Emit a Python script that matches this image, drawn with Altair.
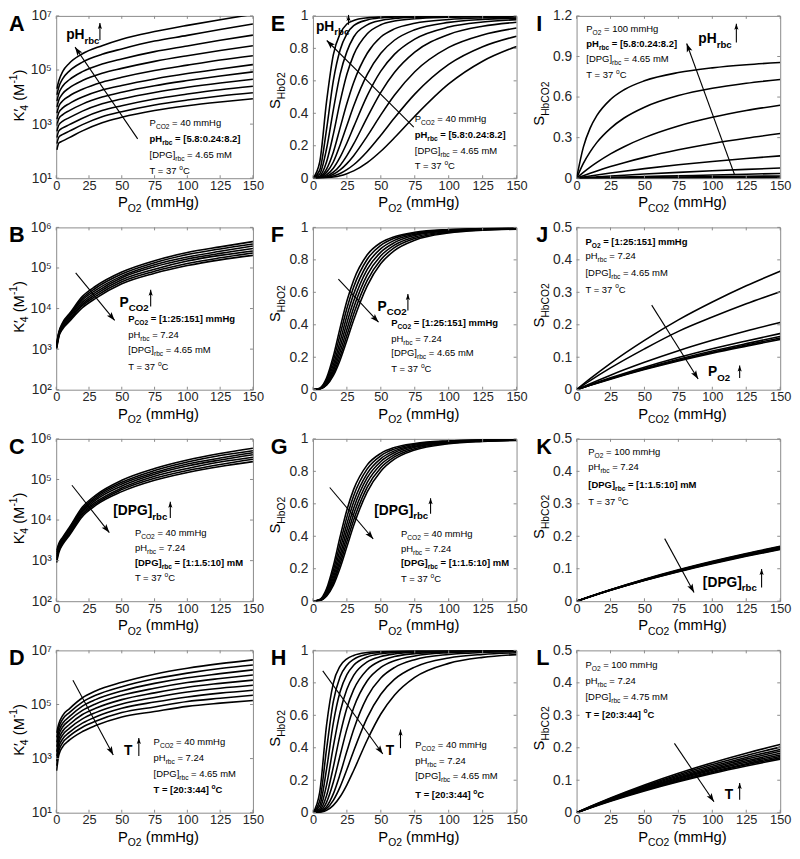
import math
import altair as alt
import pandas as pd

# ------------------------------------------------------------------
# Values
# ------------------------------------------------------------------
X_TICKS = [0, 25, 50, 75, 100, 125, 150]

# Panel A: log10 K'4 vs PO2, pH_rbc 8.2 (top) ... 5.8 (bottom)
A_PO2 = [0.5, 2, 5, 10, 20, 35, 50, 75, 100, 125, 150]
A_LOG10_K4 = [
    [4.30, 4.60, 4.95, 5.25, 5.60, 5.90, 6.14, 6.42, 6.65, 6.86, 7.06],
    [4.08, 4.37, 4.68, 4.96, 5.29, 5.58, 5.78, 6.07, 6.28, 6.50, 6.70],
    [3.85, 4.13, 4.41, 4.64, 4.94, 5.22, 5.41, 5.68, 5.89, 6.10, 6.29],
    [3.63, 3.89, 4.13, 4.34, 4.61, 4.88, 5.06, 5.32, 5.53, 5.72, 5.90],
    [3.40, 3.66, 3.86, 4.04, 4.29, 4.55, 4.73, 4.98, 5.18, 5.37, 5.53],
    [3.18, 3.43, 3.60, 3.76, 4.00, 4.26, 4.43, 4.67, 4.87, 5.04, 5.20],
    [2.95, 3.20, 3.35, 3.50, 3.74, 4.00, 4.18, 4.42, 4.61, 4.78, 4.93],
    [2.73, 2.97, 3.11, 3.24, 3.48, 3.75, 3.93, 4.17, 4.36, 4.52, 4.66],
    [2.50, 2.75, 2.86, 2.98, 3.22, 3.50, 3.68, 3.93, 4.11, 4.27, 4.40],
    [2.28, 2.52, 2.62, 2.74, 2.98, 3.27, 3.46, 3.71, 3.89, 4.04, 4.16],
    [2.05, 2.30, 2.38, 2.50, 2.75, 3.05, 3.25, 3.50, 3.68, 3.82, 3.94],
]

# Panels B, C, D share this PO2 grid
BCD_PO2 = [0.3, 2, 5, 10, 20, 30, 50, 75, 100, 125, 150]
B_LOG10_K4 = [  # PCO2 1 ... 151
    [3.15, 3.42, 3.66, 3.87, 4.30, 4.55, 4.90, 5.18, 5.38, 5.52, 5.65],
    [3.13, 3.40, 3.63, 3.84, 4.25, 4.50, 4.85, 5.13, 5.33, 5.47, 5.59],
    [3.10, 3.38, 3.61, 3.81, 4.21, 4.45, 4.80, 5.08, 5.27, 5.41, 5.54],
    [3.08, 3.36, 3.58, 3.78, 4.16, 4.40, 4.76, 5.03, 5.22, 5.36, 5.48],
    [3.05, 3.34, 3.55, 3.74, 4.11, 4.35, 4.71, 4.97, 5.17, 5.31, 5.42],
    [3.03, 3.32, 3.53, 3.71, 4.07, 4.30, 4.66, 4.92, 5.11, 5.25, 5.37],
    [3.00, 3.30, 3.50, 3.68, 4.02, 4.25, 4.61, 4.87, 5.06, 5.20, 5.31],
]
C_LOG10_K4 = [  # DPG 1 ... 10 mM
    [3.25, 3.42, 3.58, 3.82, 4.32, 4.61, 4.98, 5.27, 5.48, 5.64, 5.77],
    [3.20, 3.38, 3.55, 3.79, 4.28, 4.57, 4.93, 5.22, 5.43, 5.59, 5.71],
    [3.15, 3.35, 3.52, 3.75, 4.24, 4.53, 4.89, 5.17, 5.38, 5.53, 5.66],
    [3.10, 3.31, 3.49, 3.72, 4.21, 4.49, 4.84, 5.13, 5.33, 5.48, 5.61],
    [3.05, 3.27, 3.46, 3.69, 4.17, 4.44, 4.79, 5.08, 5.27, 5.43, 5.55],
    [3.00, 3.24, 3.43, 3.65, 4.13, 4.40, 4.75, 5.03, 5.22, 5.37, 5.50],
    [2.95, 3.20, 3.40, 3.62, 4.09, 4.36, 4.70, 4.98, 5.17, 5.32, 5.44],
]
D_LOG10_K4 = [  # T 20 ... 44 C
    [3.95, 4.29, 4.60, 4.84, 5.25, 5.50, 5.82, 6.12, 6.34, 6.51, 6.65],
    [3.78, 4.15, 4.46, 4.70, 5.09, 5.34, 5.66, 5.95, 6.16, 6.33, 6.46],
    [3.60, 4.00, 4.31, 4.55, 4.94, 5.18, 5.50, 5.78, 5.99, 6.14, 6.28],
    [3.43, 3.86, 4.17, 4.41, 4.78, 5.02, 5.34, 5.60, 5.81, 5.96, 6.09],
    [3.25, 3.71, 4.02, 4.26, 4.63, 4.86, 5.18, 5.43, 5.64, 5.78, 5.90],
    [3.08, 3.57, 3.88, 4.12, 4.47, 4.70, 5.02, 5.26, 5.46, 5.60, 5.71],
    [2.90, 3.42, 3.73, 3.97, 4.31, 4.54, 4.86, 5.09, 5.28, 5.42, 5.53],
    [2.73, 3.28, 3.59, 3.83, 4.16, 4.38, 4.70, 4.91, 5.11, 5.23, 5.34],
    [2.55, 3.13, 3.44, 3.68, 4.00, 4.22, 4.54, 4.74, 4.93, 5.05, 5.15],
]

# Panels E-H: S_HbO2 vs PO2
S_PO2 = [0, 5, 10, 15, 20, 25, 30, 40, 50, 60, 75, 100, 125, 150]
E_SHBO2 = [  # pH 8.2 ... 5.8
    [0, 0.100, 0.470, 0.760, 0.890, 0.950, 0.972, 0.988, 0.993, 0.995, 0.997, 0.998, 0.999, 0.999],
    [0, 0.050, 0.300, 0.600, 0.790, 0.890, 0.940, 0.975, 0.988, 0.993, 0.996, 0.998, 0.999, 0.999],
    [0, 0.026, 0.180, 0.420, 0.640, 0.780, 0.870, 0.945, 0.972, 0.984, 0.992, 0.996, 0.998, 0.999],
    [0, 0.013, 0.100, 0.270, 0.470, 0.640, 0.760, 0.890, 0.945, 0.968, 0.983, 0.992, 0.996, 0.998],
    [0, 0.008, 0.056, 0.160, 0.310, 0.460, 0.590, 0.770, 0.870, 0.920, 0.955, 0.978, 0.988, 0.993],
    [0, 0.005, 0.036, 0.100, 0.205, 0.325, 0.445, 0.640, 0.770, 0.850, 0.915, 0.960, 0.978, 0.986],
    [0, 0.003, 0.021, 0.062, 0.130, 0.217, 0.316, 0.509, 0.660, 0.763, 0.857, 0.931, 0.962, 0.977],
    [0, 0.002, 0.012, 0.037, 0.079, 0.139, 0.211, 0.375, 0.529, 0.651, 0.777, 0.886, 0.936, 0.961],
    [0, 0.001, 0.008, 0.024, 0.051, 0.090, 0.139, 0.259, 0.390, 0.511, 0.656, 0.806, 0.883, 0.925],
    [0, 0.001, 0.005, 0.014, 0.029, 0.053, 0.083, 0.165, 0.265, 0.371, 0.518, 0.701, 0.810, 0.875],
    [0, 0.000, 0.002, 0.007, 0.015, 0.028, 0.045, 0.096, 0.166, 0.249, 0.382, 0.581, 0.721, 0.812],
]
F_SHBO2 = [  # PCO2 1 ... 151
    [0, 0.0095, 0.0715, 0.206, 0.381, 0.546, 0.675, 0.831, 0.906, 0.943, 0.970, 0.987, 0.993, 0.996],
    [0, 0.0079, 0.0600, 0.178, 0.339, 0.500, 0.633, 0.804, 0.889, 0.933, 0.964, 0.985, 0.992, 0.995],
    [0, 0.0066, 0.0500, 0.152, 0.298, 0.454, 0.589, 0.773, 0.869, 0.920, 0.957, 0.982, 0.990, 0.994],
    [0, 0.0055, 0.0427, 0.131, 0.263, 0.411, 0.546, 0.741, 0.848, 0.906, 0.950, 0.978, 0.989, 0.993],
    [0, 0.0047, 0.0364, 0.113, 0.232, 0.371, 0.505, 0.707, 0.825, 0.891, 0.941, 0.974, 0.987, 0.992],
    [0, 0.0040, 0.0313, 0.098, 0.205, 0.335, 0.466, 0.674, 0.801, 0.875, 0.932, 0.970, 0.984, 0.991],
    [0, 0.0035, 0.0271, 0.086, 0.182, 0.303, 0.429, 0.640, 0.777, 0.857, 0.921, 0.965, 0.982, 0.989],
]
G_SHBO2 = [  # DPG 1 ... 10 mM
    [0, 0.0102, 0.0759, 0.217, 0.397, 0.562, 0.689, 0.840, 0.911, 0.947, 0.972, 0.988, 0.994, 0.996],
    [0, 0.0085, 0.0644, 0.189, 0.355, 0.518, 0.650, 0.815, 0.896, 0.937, 0.967, 0.986, 0.993, 0.996],
    [0, 0.0072, 0.0550, 0.164, 0.318, 0.476, 0.611, 0.788, 0.879, 0.926, 0.961, 0.983, 0.991, 0.995],
    [0, 0.0062, 0.0473, 0.144, 0.284, 0.437, 0.573, 0.761, 0.861, 0.915, 0.954, 0.980, 0.990, 0.994],
    [0, 0.0053, 0.0410, 0.126, 0.255, 0.400, 0.536, 0.732, 0.842, 0.902, 0.948, 0.977, 0.988, 0.993],
    [0, 0.0046, 0.0357, 0.111, 0.229, 0.367, 0.500, 0.703, 0.822, 0.889, 0.940, 0.974, 0.986, 0.992],
    [0, 0.0040, 0.0313, 0.098, 0.205, 0.335, 0.466, 0.674, 0.801, 0.875, 0.932, 0.970, 0.984, 0.991],
]
H_SHBO2 = [  # T 20 ... 44 C
    [0, 0.127, 0.538, 0.797, 0.903, 0.948, 0.969, 0.987, 0.993, 0.996, 0.998, 0.999, 0.999, 0.999],
    [0, 0.074, 0.390, 0.684, 0.837, 0.909, 0.945, 0.976, 0.988, 0.993, 0.996, 0.998, 0.999, 0.999],
    [0, 0.0436, 0.267, 0.552, 0.745, 0.851, 0.908, 0.959, 0.979, 0.987, 0.994, 0.997, 0.998, 0.999],
    [0, 0.0248, 0.169, 0.407, 0.620, 0.761, 0.846, 0.929, 0.962, 0.978, 0.988, 0.995, 0.997, 0.998],
    [0, 0.0143, 0.104, 0.281, 0.481, 0.645, 0.758, 0.881, 0.936, 0.962, 0.980, 0.991, 0.996, 0.997],
    [0, 0.0084, 0.0637, 0.187, 0.352, 0.515, 0.647, 0.813, 0.895, 0.936, 0.966, 0.986, 0.993, 0.996],
    [0, 0.0048, 0.0375, 0.116, 0.238, 0.378, 0.513, 0.714, 0.830, 0.894, 0.943, 0.975, 0.987, 0.992],
    [0, 0.0034, 0.0248, 0.076, 0.159, 0.266, 0.380, 0.586, 0.730, 0.821, 0.897, 0.953, 0.975, 0.985],
    [0, 0.0019, 0.0143, 0.045, 0.098, 0.172, 0.260, 0.448, 0.608, 0.724, 0.834, 0.920, 0.957, 0.974],
]

# Panel I: S_HbCO2 vs PCO2, pH 8.2 (top) ... 5.8 (bottom)
I_PCO2 = [0, 5, 10, 15, 25, 35, 50, 75, 100, 125, 150]
I_SHBCO2 = [
    [0, 0.230, 0.370, 0.464, 0.582, 0.654, 0.720, 0.781, 0.816, 0.839, 0.855],
    [0, 0.110, 0.195, 0.265, 0.369, 0.445, 0.525, 0.611, 0.665, 0.702, 0.730],
    [0, 0.043, 0.082, 0.117, 0.180, 0.233, 0.300, 0.386, 0.450, 0.500, 0.540],
    [0, 0.019, 0.037, 0.054, 0.086, 0.115, 0.154, 0.210, 0.257, 0.296, 0.330],
    [0, 0.0081, 0.016, 0.0236, 0.0381, 0.0517, 0.0707, 0.099, 0.124, 0.146, 0.165],
    [0, 0.0034, 0.0067, 0.0099, 0.0162, 0.0221, 0.0306, 0.0434, 0.055, 0.0655, 0.075],
    [0, 0.0012, 0.0024, 0.0036, 0.0062, 0.0086, 0.0122, 0.018, 0.024, 0.0296, 0.035],
    [0, 0.0006, 0.0012, 0.0018, 0.003, 0.0041, 0.0059, 0.0087, 0.0115, 0.0143, 0.017],
    [0, 0.0003, 0.0006, 0.0009, 0.0015, 0.0021, 0.003, 0.0045, 0.006, 0.0075, 0.009],
    [0, 0.0002, 0.0003, 0.0005, 0.0008, 0.0012, 0.0017, 0.0025, 0.0033, 0.0042, 0.005],
    [0, 0.0001, 0.0002, 0.0003, 0.0005, 0.0007, 0.001, 0.0015, 0.002, 0.0025, 0.003],
]

# Panels J, K, L: S_HbCO2 vs PCO2
JKL_PCO2 = [0, 10, 25, 50, 75, 100, 125, 150]
J_SHBCO2 = [  # PO2 1 ... 151
    [0, 0.0339, 0.0813, 0.152, 0.215, 0.270, 0.320, 0.365],
    [0, 0.0280, 0.0671, 0.1259, 0.1798, 0.2238, 0.2647, 0.302],
    [0, 0.0185, 0.0448, 0.0843, 0.120, 0.152, 0.181, 0.207],
    [0, 0.0150, 0.0365, 0.0692, 0.0989, 0.126, 0.150, 0.173],
    [0, 0.0143, 0.0346, 0.0656, 0.0937, 0.119, 0.142, 0.164],
    [0, 0.0138, 0.0335, 0.0636, 0.0909, 0.1156, 0.1378, 0.159],
    [0, 0.0135, 0.0326, 0.0620, 0.0886, 0.1127, 0.1343, 0.155],
]
K_SHBCO2 = [  # DPG 1 ... 10 mM
    [0, 0.0147, 0.0356, 0.0676, 0.0966, 0.1229, 0.1470, 0.1690],
    [0, 0.01455, 0.0352, 0.0669, 0.0956, 0.1216, 0.1455, 0.1673],
    [0, 0.0144, 0.0349, 0.0663, 0.0947, 0.1205, 0.1441, 0.1657],
    [0, 0.01426, 0.0345, 0.0656, 0.0937, 0.1193, 0.1426, 0.1640],
    [0, 0.01411, 0.0342, 0.0649, 0.0927, 0.1180, 0.1411, 0.1623],
    [0, 0.01398, 0.0338, 0.0643, 0.0919, 0.1169, 0.1398, 0.1607],
    [0, 0.01383, 0.0335, 0.0636, 0.0909, 0.1156, 0.1383, 0.1590],
]
L_SHBCO2 = [  # T 20 ... 44 C
    [0, 0.0188, 0.0453, 0.0856, 0.1216, 0.1540, 0.1833, 0.210],
    [0, 0.0181, 0.0436, 0.0823, 0.1170, 0.1482, 0.1764, 0.202],
    [0, 0.0174, 0.0421, 0.0794, 0.1129, 0.1430, 0.1702, 0.195],
    [0, 0.0169, 0.0408, 0.0770, 0.1094, 0.1386, 0.1650, 0.189],
    [0, 0.0164, 0.0395, 0.0746, 0.1060, 0.1342, 0.1598, 0.183],
    [0, 0.0159, 0.0384, 0.0726, 0.1031, 0.1306, 0.1555, 0.178],
    [0, 0.0155, 0.0373, 0.0704, 0.1001, 0.1268, 0.1510, 0.173],
    [0, 0.0151, 0.0365, 0.0689, 0.0979, 0.1240, 0.1476, 0.169],
    [0, 0.0148, 0.0356, 0.0672, 0.0955, 0.1210, 0.1440, 0.165],
]

# Tick values
YT_LOG_ODD = [1e1, 1e3, 1e5, 1e7]
YT_LOG_ALL = [1e2, 1e3, 1e4, 1e5, 1e6]
YT_S1 = [0, 0.2, 0.4, 0.6, 0.8, 1.0]
YT_I = [0, 0.3, 0.6, 0.9, 1.2]
YT_05 = [0, 0.1, 0.2, 0.3, 0.4, 0.5]

# Texts
XT_O2 = "P_{O2} (mmHg)"
XT_CO2 = "P_{CO2} (mmHg)"
YT_K = "K\u2032_{4} (M^{-1})"
YT_O2 = "S_{HbO2}"
YT_CO2 = "S_{HbCO2}"

INFO_A = [("P_{CO2} = 40 mmHg", False), ("pH_{rbc} = [5.8:0.24:8.2]", True),
          ("[DPG]_{rbc} = 4.65 mM", False), ("T = 37 ^{o}C", False)]
INFO_I = [("P_{O2} = 100 mmHg", False), ("pH_{rbc} = [5.8:0.24:8.2]", True),
          ("[DPG]_{rbc} = 4.65 mM", False), ("T = 37 ^{o}C", False)]
INFO_B = [("P_{CO2} = [1:25:151] mmHg", True), ("pH_{rbc} = 7.24", False),
          ("[DPG]_{rbc} = 4.65 mM", False), ("T = 37 ^{o}C", False)]
INFO_J = [("P_{O2} = [1:25:151] mmHg", True), ("pH_{rbc} = 7.24", False),
          ("[DPG]_{rbc} = 4.65 mM", False), ("T = 37 ^{o}C", False)]
INFO_C = [("P_{CO2} = 40 mmHg", False), ("pH_{rbc} = 7.24", False),
          ("[DPG]_{rbc} = [1:1.5:10] mM", True), ("T = 37 ^{o}C", False)]
INFO_K = [("P_{O2} = 100 mmHg", False), ("pH_{rbc} = 7.24", False),
          ("[DPG]_{rbc} = [1:1.5:10] mM", True), ("T = 37 ^{o}C", False)]
INFO_D = [("P_{CO2} = 40 mmHg", False), ("pH_{rbc} = 7.24", False),
          ("[DPG]_{rbc} = 4.65 mM", False), ("T = [20:3:44] ^{o}C", True)]
INFO_L = [("P_{O2} = 100 mmHg", False), ("pH_{rbc} = 7.24", False),
          ("[DPG]_{rbc} = 4.75 mM", False), ("T = [20:3:44] ^{o}C", True)]

# ------------------------------------------------------------------
# Styling / layout helpers
# ------------------------------------------------------------------
FONT = "Liberation Sans"
BOX = "#8a8a8a"
LABEL = "#262626"
INK = "#000000"
H = 165
COL_W = [200, 207, 207]
COL_LETTER_X = [-48, -43, -41]
ARROW_PATH = "M0,0L-0.55,1.6L0,1.25L0.55,1.6Z"

_REG = dict(zip("ABCDEFGHIJKLMNOPQRSTUVWXYZ",
                [667, 667, 722, 722, 667, 611, 778, 722, 278, 500, 667, 556, 833,
                 722, 778, 667, 778, 722, 667, 611, 722, 667, 944, 667, 667, 611]))
_REG.update(zip("abcdefghijklmnopqrstuvwxyz",
                [556, 556, 500, 556, 556, 278, 556, 556, 222, 222, 500, 222, 833,
                 556, 556, 556, 556, 333, 500, 278, 556, 500, 722, 500, 500, 500]))
_REG.update({c: 556 for c in "0123456789"})
_REG.update({" ": 278, "(": 333, ")": 333, "-": 333, ".": 278, ":": 278,
             "=": 584, "[": 278, "]": 278, "\u2032": 60})
_BOLD = dict(zip("ABCDEFGHIJKLMNOPQRSTUVWXYZ",
                 [722, 722, 722, 722, 667, 611, 778, 722, 278, 556, 722, 611, 833,
                  722, 778, 667, 778, 722, 667, 611, 722, 667, 944, 667, 667, 611]))
_BOLD.update(zip("abcdefghijklmnopqrstuvwxyz",
                 [556, 611, 556, 611, 556, 333, 611, 611, 278, 278, 556, 278, 889,
                  611, 611, 611, 611, 389, 556, 333, 611, 556, 778, 556, 556, 500]))
_BOLD.update({c: 556 for c in "0123456789"})
_BOLD.update({" ": 278, "(": 333, ")": 333, "-": 333, ".": 278, ":": 333,
              "=": 584, "[": 333, "]": 333, "\u2032": 60})


def tw(text, size, bold):
    tab = _BOLD if bold else _REG
    return sum(tab.get(ch, 556) for ch in text) * size / 1000.0


def parse(s):
    out, i = [], 0
    while i < len(s):
        if s[i] in "_^" and i + 1 < len(s) and s[i + 1] == "{":
            j = s.index("}", i)
            out.append((s[i + 2:j], "s" if s[i] == "_" else "p"))
            i = j + 1
        else:
            j = i
            while j < len(s) and not (s[j] in "_^" and j + 1 < len(s) and s[j + 1] == "{"):
                j += 1
            out.append((s[i:j], "n"))
            i = j
    return out


def rich(s, x, y, size, bold, angle=0, align="left"):
    items, adv = [], 0.0
    for t, m in parse(s):
        fs = size if m == "n" else round(size * 0.7, 2)
        off = 0.0 if m == "n" else (0.32 * size if m == "s" else -0.45 * size)
        lead = len(t) - len(t.lstrip(" "))
        items.append((t.strip(" "), fs, adv + tw(" " * lead, fs, bold), off))
        adv += tw(t, fs, bold)
    start = {"left": 0.0, "center": -adv / 2.0, "right": -adv}[align]
    rows = []
    for t, fs, a, off in items:
        if not t:
            continue
        a += start
        if angle == 0:
            rows.append(dict(px=x + a, py=y + off, txt=t, fs=fs, ang=0, b=bold))
        else:
            rows.append(dict(px=x + off, py=y - a, txt=t, fs=fs, ang=270, b=bold))
    return rows


def arrow(x1, y1, x2, y2, hs):
    ang = math.degrees(math.atan2(x2 - x1, -(y2 - y1))) % 360
    return dict(px=x1, py=y1, px2=x2, py2=y2, ang=ang, hs=hs)


LOG_EXPR = ("'10' + ['\u2070','\u00b9','\u00b2','\u00b3','\u2074','\u2075','\u2076','\u2077']"
            "[round(log(datum.value)/LN10)]")


def panel(p, col):
    W = COL_W[col]
    sx, sy = W / p["ref"][0], H / p["ref"][1]

    rows = []
    for ci, ys in enumerate(p["curves"]):
        for xv, yv in zip(p["x"], ys):
            rows.append({"x": xv, "y": (10 ** yv) if p["log"] else yv, "c": ci})
    df = pd.DataFrame(rows)

    if p["log"]:
        ysc = alt.Scale(type="log", domain=p["ydom"], nice=False)
        yax = alt.Axis(values=p["yt"], labelExpr=LOG_EXPR, title=None)
    else:
        ysc = alt.Scale(domain=p["ydom"], nice=False, zero=False)
        yax = alt.Axis(values=p["yt"], format=".1~f", title=None)
    X = alt.X("x:Q", scale=alt.Scale(domain=[0, 150], nice=False, zero=False),
              axis=alt.Axis(values=X_TICKS, format="d", title=None))
    Y = alt.Y("y:Q", scale=ysc, axis=yax)

    lines = alt.Chart(df).mark_line(color=INK, strokeWidth=1.6, clip=True,
                                    interpolate="monotone").encode(x=X, y=Y, detail="c:N")
    xt = pd.DataFrame({"x": X_TICKS})
    yt = pd.DataFrame({"y": p["yt"]})
    TL = 3
    t1 = alt.Chart(xt).mark_rule(color=BOX).encode(x=X, y=alt.value(H), y2=alt.value(H - TL))
    t2 = alt.Chart(xt).mark_rule(color=BOX).encode(x=X, y=alt.value(0), y2=alt.value(TL))
    t3 = alt.Chart(yt).mark_rule(color=BOX).encode(y=Y, x=alt.value(0), x2=alt.value(TL))
    t4 = alt.Chart(yt).mark_rule(color=BOX).encode(y=Y, x=alt.value(W), x2=alt.value(W - TL))
    base = alt.layer(lines, t1, t2, t3, t4)

    # ---- annotations in pixel coordinates of the plot area ----
    txt = []
    txt += rich(p["letter"], COL_LETTER_X[col], 15, 22, True)
    ycen = H * p.get("ycen", 0.49)
    txt += rich(p["ytitle"], -33, ycen, 15, False, angle=270, align="center")
    txt += rich(p["xtitle"], W * 0.52, H + 29.5, 15, False, align="center")
    ix = p["info_x"] * sx
    for (s, b), yy in zip(p["info"], p["info_y"]):
        txt += rich(s, ix, yy * sy, 9.6, b)
    lx, ly = p["label_xy"]
    txt += rich(p["label"], lx * sx, ly * sy, 14, True)
    tdf = pd.DataFrame(txt)

    ux, uy1, uy2 = p["up"]
    bx1, by1, bx2, by2 = p["big"]
    adf = pd.DataFrame([
        arrow(ux * sx, uy1 * sy, ux * sx, uy2 * sy, 60),
        arrow(bx1 * sx, by1 * sy, bx2 * sx, by2 * sy, 120),
    ])

    PXS = alt.Scale(domain=[0, W], nice=False, zero=False)
    PYS = alt.Scale(domain=[H, 0], nice=False, zero=False)
    layers = [base]
    for bold in (False, True):
        sub = tdf[tdf["b"] == bold]
        if len(sub) == 0:
            continue
        layers.append(
            alt.Chart(sub).mark_text(align="left", baseline="alphabetic", font=FONT,
                                     fontWeight="bold" if bold else "normal", color=INK)
            .encode(x=alt.X("px:Q", scale=PXS, axis=None),
                    y=alt.Y("py:Q", scale=PYS, axis=None),
                    text="txt:N",
                    size=alt.Size("fs:Q", scale=None, legend=None),
                    angle=alt.Angle("ang:Q", scale=None, legend=None))
        )
    layers.append(
        alt.Chart(adf).mark_rule(color=INK, strokeWidth=1.1)
        .encode(x=alt.X("px:Q", scale=PXS, axis=None), y=alt.Y("py:Q", scale=PYS, axis=None),
                x2="px2:Q", y2="py2:Q")
    )
    layers.append(
        alt.Chart(adf).mark_point(shape=ARROW_PATH, filled=True, color=INK, opacity=1, strokeWidth=0)
        .encode(x=alt.X("px2:Q", scale=PXS, axis=None), y=alt.Y("py2:Q", scale=PYS, axis=None),
                angle=alt.Angle("ang:Q", scale=None, legend=None),
                size=alt.Size("hs:Q", scale=None, legend=None))
    )
    return alt.layer(*layers).resolve_scale(x="independent", y="independent").properties(
        width=W, height=H)


SPECS = [
    [  # row 1
        dict(letter="A", x=A_PO2, curves=A_LOG10_K4, log=True, ydom=[1e1, 1e7], yt=YT_LOG_ODD,
             xtitle=XT_O2, ytitle=YT_K, ref=(198, 161), info=INFO_A, info_x=94,
             info_y=[109, 125, 141, 157], label="pH_{rbc}", label_xy=(10, 23),
             up=(44, 24, 7), big=(82, 122, 19, 31)),
        dict(letter="E", x=S_PO2, curves=E_SHBO2, log=False, ydom=[0, 1], yt=YT_S1,
             xtitle=XT_O2, ytitle=YT_O2, ref=(206, 165), info=INFO_A, info_x=103,
             info_y=[108, 124, 140, 156], label="pH_{rbc}", label_xy=(3, 15),
             up=(36, 9, -1), big=(102, 113, 14, 25), ycen=0.46),
        dict(letter="I", x=I_PCO2, curves=I_SHBCO2, log=False, ydom=[0, 1.2], yt=YT_I,
             xtitle=XT_CO2, ytitle=YT_CO2, ref=(209, 165), info=INFO_I, info_x=10,
             info_y=[16, 32, 47, 63], label="pH_{rbc}", label_xy=(125, 28),
             up=(164, 27, 8), big=(162, 161, 113, 28), ycen=0.54),
    ],
    [  # row 2
        dict(letter="B", x=BCD_PO2, curves=B_LOG10_K4, log=True, ydom=[1e2, 1e6], yt=YT_LOG_ALL,
             xtitle=XT_O2, ytitle=YT_K, ref=(202, 164), info=INFO_B, info_x=74,
             info_y=[96, 112, 127, 144], label="P_{CO2}", label_xy=(65, 80),
             up=(97, 80, 63), big=(20, 46, 60, 94)),
        dict(letter="F", x=S_PO2, curves=F_SHBO2, log=False, ydom=[0, 1], yt=YT_S1,
             xtitle=XT_O2, ytitle=YT_O2, ref=(208, 166), info=INFO_B, info_x=80,
             info_y=[101, 117, 132, 148], label="P_{CO2}", label_xy=(66, 85),
             up=(97, 85, 68), big=(26, 53, 67, 97), ycen=0.47),
        dict(letter="J", x=JKL_PCO2, curves=J_SHBCO2, log=False, ydom=[0, 0.5], yt=YT_05,
             xtitle=XT_CO2, ytitle=YT_CO2, ref=(206, 167), info=INFO_J, info_x=9,
             info_y=[18, 33, 50, 67], label="P_{O2}", label_xy=(133, 153),
             up=(165, 155, 142), big=(76, 80, 123, 156), ycen=0.48),
    ],
    [  # row 3
        dict(letter="C", x=BCD_PO2, curves=C_LOG10_K4, log=True, ydom=[1e2, 1e6], yt=YT_LOG_ALL,
             xtitle=XT_O2, ytitle=YT_K, ref=(200, 168), info=INFO_C, info_x=80,
             info_y=[100, 116, 132, 147], label="[DPG]_{rbc}", label_xy=(58, 79),
             up=(116, 82, 65), big=(16, 48, 54, 97)),
        dict(letter="G", x=S_PO2, curves=G_SHBO2, log=False, ydom=[0, 1], yt=YT_S1,
             xtitle=XT_O2, ytitle=YT_O2, ref=(206, 167), info=INFO_C, info_x=89,
             info_y=[101, 116, 131, 147], label="[DPG]_{rbc}", label_xy=(62, 78),
             up=(119, 77, 61), big=(17, 50, 61, 103), ycen=0.47),
        dict(letter="K", x=JKL_PCO2, curves=K_SHBCO2, log=False, ydom=[0, 0.5], yt=YT_05,
             xtitle=XT_CO2, ytitle=YT_CO2, ref=(208, 166), info=INFO_K, info_x=12,
             info_y=[16, 32, 50, 68], label="[DPG]_{rbc}", label_xy=(129, 151),
             up=(189, 152, 133), big=(90, 102, 120, 157), ycen=0.48),
    ],
    [  # row 4
        dict(letter="D", x=BCD_PO2, curves=D_LOG10_K4, log=True, ydom=[1e1, 1e7], yt=YT_LOG_ODD,
             xtitle=XT_O2, ytitle=YT_K, ref=(200, 163), info=INFO_D, info_x=99,
             info_y=[95, 111, 127, 143], label="T", label_xy=(69, 105),
             up=(84, 106, 88), big=(17, 30, 58, 105)),
        dict(letter="H", x=S_PO2, curves=H_SHBO2, log=False, ydom=[0, 1], yt=YT_S1,
             xtitle=XT_O2, ytitle=YT_O2, ref=(207, 166), info=INFO_D, info_x=104,
             info_y=[100, 116, 132, 151], label="T", label_xy=(74, 107),
             up=(89, 100, 81), big=(10, 21, 71, 106), ycen=0.48),
        dict(letter="L", x=JKL_PCO2, curves=L_SHBCO2, log=False, ydom=[0, 0.5], yt=YT_05,
             xtitle=XT_CO2, ytitle=YT_CO2, ref=(206, 164), info=INFO_L, info_x=9,
             info_y=[18, 34, 50, 68], label="T", label_xy=(150, 150),
             up=(165, 151, 134), big=(99, 94, 139, 153), ycen=0.48),
    ],
]

rows = [alt.hconcat(*[panel(p, c) for c, p in enumerate(r)], spacing=3) for r in SPECS]

chart = (
    alt.vconcat(*rows, spacing=4, padding={"left": 0, "top": -7, "right": 0, "bottom": 0})
    .configure_view(stroke=BOX, strokeWidth=1)
    .configure_axis(labelFont=FONT, labelFontSize=13, labelColor=LABEL, ticks=False,
                    domain=False, grid=False, labelFlush=False, labelOverlap=False)
    .configure_axisX(labelPadding=1)
    .configure_axisY(labelPadding=5, labelFontSize=14)
)

chart.save("out.html", embed_options={"renderer": "svg", "actions": False})
